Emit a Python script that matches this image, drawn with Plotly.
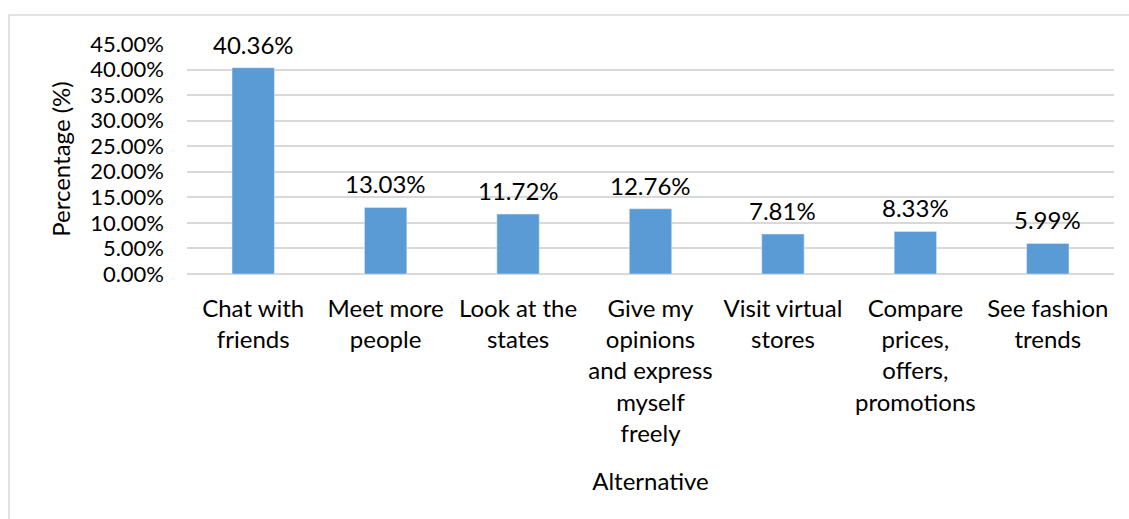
import plotly.graph_objects as go

categories = ["Chat with<br>friends", "Meet more<br>people", "Look at the<br>states",
              "Give my<br>opinions<br>and express<br>myself<br>freely",
              "Visit virtual<br>stores", "Compare<br>prices,<br>offers,<br>promotions",
              "See fashion<br>trends"]
values = [40.36, 13.03, 11.72, 12.76, 7.81, 8.33, 5.99]
tick_vals = [0, 5, 10, 15, 20, 25, 30, 35, 40, 45]
tick_text = [f"{v:.2f}%" for v in tick_vals]

FONT = "Lato"
FS = 24
fig = go.Figure(go.Bar(x=categories, y=values, marker_color="#5B9BD5",
                       width=0.32, hoverinfo="skip"))

for c, v in zip(categories, values):
    fig.add_annotation(x=c, y=v, text=f"{v:.2f}%", showarrow=False,
                       yanchor="bottom", yshift=7,
                       font=dict(family=FONT, size=FS, color="#000000"))

L, R, T, B = 187, 15, 44, 245
W, H = 1129, 519
pw, ph = W - L - R, H - T - B
fig.add_shape(type="rect", xref="paper", yref="paper",
              x0=(9 - L) / pw, x1=(1135 - L) / pw,
              y0=(H - B - 530) / ph, y1=(H - B - 15) / ph,
              line=dict(color="#d9d9d9", width=1.5), fillcolor="rgba(0,0,0,0)",
              layer="below")

fig.update_layout(
    width=W, height=H,
    margin=dict(l=L, r=R, t=T, b=B, autoexpand=False),
    paper_bgcolor="white", plot_bgcolor="white",
    font=dict(family=FONT, size=FS, color="#000000"),
    showlegend=False,
    bargap=0.68,
    xaxis=dict(showline=False, ticks="", tickfont=dict(size=FS),
               ticklabelstandoff=18,
               title=dict(text="Alternative", font=dict(size=FS), standoff=27),
               tickangle=0, automargin=False),
    yaxis=dict(range=[0, 45], tickvals=tick_vals, ticktext=tick_text,
               tickfont=dict(size=22),
               showgrid=True, gridcolor="#d9d9d9", gridwidth=1.5,
               zeroline=True, zerolinecolor="#d9d9d9", zerolinewidth=1.5,
               ticklabelstandoff=22, automargin=False,
               title=dict(text="Percentage (%)", font=dict(size=FS), standoff=12)),
)

fig.write_html("out.html", config={"displayModeBar": False},
               post_script="document.body.style.margin='0';")
